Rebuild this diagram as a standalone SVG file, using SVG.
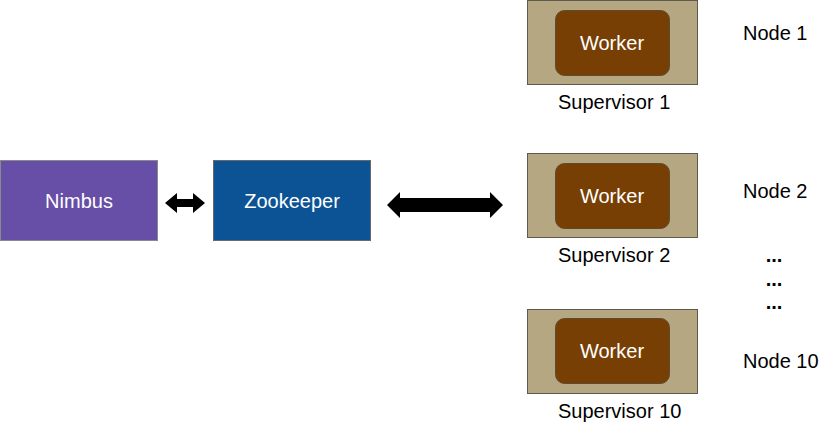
<svg xmlns="http://www.w3.org/2000/svg" width="819" height="422" viewBox="0 0 819 422">
<style>
text{font-family:"Liberation Sans",Arial,sans-serif;font-size:20px}
.w{fill:#fff;text-anchor:middle}
.l{fill:#000}
.c{fill:#000;text-anchor:middle}
.sup{fill:#b4a782;stroke:#5e5a4f;stroke-width:1}
.wrk{fill:#783f04;stroke:#5e4a30;stroke-width:1}
</style>
<rect width="819" height="422" fill="#fff"/>
<g id="nimbus"><rect x="0.5" y="160.5" width="157" height="80" fill="#674ea7" stroke="#8a8a8a"/><text class="w" x="79" y="208">Nimbus</text></g>
<g id="zookeeper"><rect x="213.5" y="160.5" width="157" height="80" fill="#0b5394" stroke="#6a6a6a"/><text class="w" x="292" y="208">Zookeeper</text></g>
<g id="connectors">
<polygon points="165,203 177,193 177,199 193,199 193,193 205,203 193,213 193,207 177,207 177,213" fill="#000"/>
<polygon points="387,205 400,192 400,198 490,198 490,192 503,205 490,218 490,212 400,212 400,218" fill="#000"/>
</g>
<g id="sup1"><rect class="sup" x="527.5" y="0.5" width="170" height="84"/><rect class="wrk" x="555.5" y="10.5" width="114" height="65" rx="9"/><text class="w" x="612" y="50">Worker</text><text class="l" x="558" y="109">Supervisor 1</text></g>
<g id="sup2"><rect class="sup" x="527.5" y="153.5" width="170" height="84"/><rect class="wrk" x="555.5" y="163.5" width="114" height="65" rx="9"/><text class="w" x="612" y="203">Worker</text><text class="l" x="558" y="262">Supervisor 2</text></g>
<g id="sup10"><rect class="sup" x="527.5" y="309.5" width="170" height="84"/><rect class="wrk" x="555.5" y="318.5" width="114" height="65" rx="9"/><text class="w" x="612" y="358">Worker</text><text class="l" x="558" y="418">Supervisor 10</text></g>
<g id="labels">
<text class="l" x="743" y="40">Node 1</text>
<text class="l" x="743" y="198">Node 2</text>
<text class="l" x="743" y="368">Node 10</text>
<text class="c" x="774" y="262" font-weight="bold">...</text>
<text class="c" x="774" y="286" font-weight="bold">...</text>
<text class="c" x="774" y="309" font-weight="bold">...</text>
</g>
</svg>
